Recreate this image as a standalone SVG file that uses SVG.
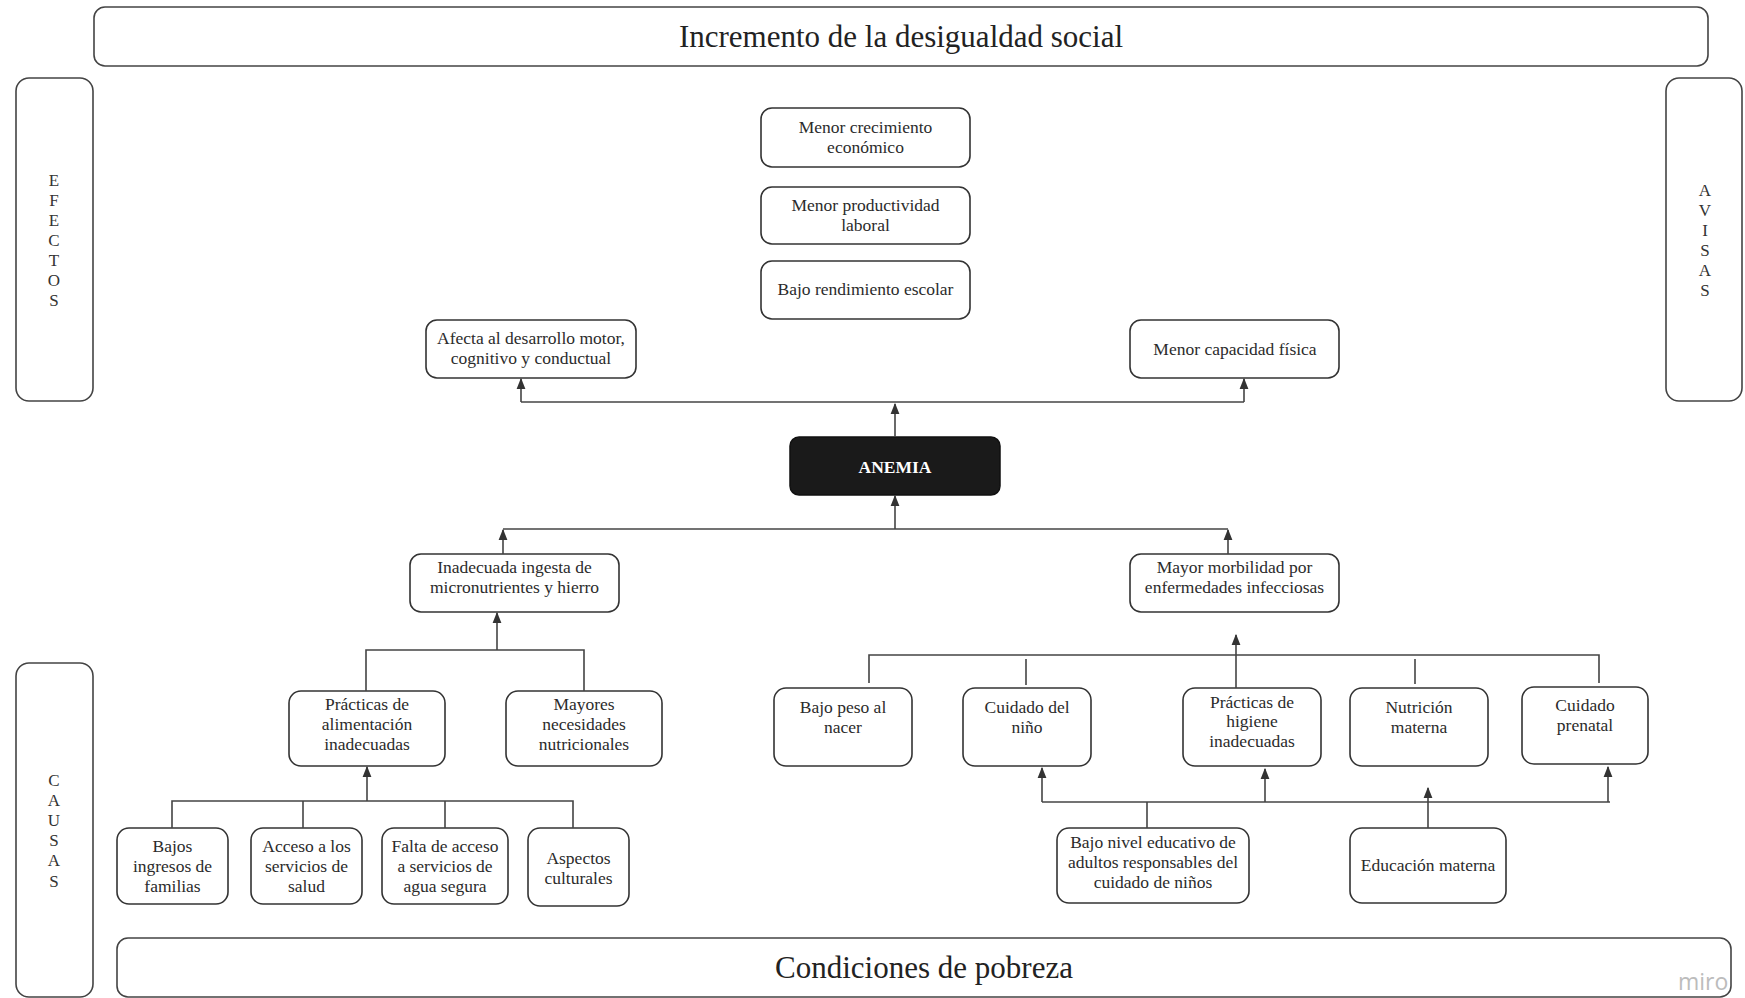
<svg xmlns="http://www.w3.org/2000/svg" width="1745" height="998" viewBox="0 0 1745 998">
<defs>
<style>
.box{fill:#fff;stroke:#333;stroke-width:1.6}
.band{fill:#fff;stroke:#444;stroke-width:1.6}
.t{font-family:"Liberation Serif","Times New Roman",serif;font-size:17.5px;fill:#2b2b2b;text-anchor:middle}
.big{font-family:"Liberation Serif","Times New Roman",serif;font-size:31px;fill:#222;text-anchor:middle}
.side{font-family:"Liberation Serif","Times New Roman",serif;font-size:17px;fill:#333;text-anchor:middle}
.con{fill:none;stroke:#444;stroke-width:1.6}
</style>
<marker id="ah" viewBox="0 0 10 10" refX="9" refY="5" markerWidth="11" markerHeight="11" markerUnits="userSpaceOnUse" orient="auto">
<path d="M0,1 L10,5 L0,9 Z" fill="#333"/>
</marker>
</defs>
<rect width="1745" height="998" fill="#fff"/>

<g id="band-top"><rect class="band" x="94" y="7" width="1614" height="59" rx="11"/><text class="big" x="901" y="47">Incremento de la desigualdad social</text></g>
<g id="band-bottom"><rect class="band" x="117" y="938" width="1614" height="59" rx="11"/><text class="big" x="924" y="978">Condiciones de pobreza</text></g>

<g id="side-efectos"><rect class="band" x="16" y="78" width="77" height="323" rx="13"/>
<text class="side" x="54"><tspan x="54" y="186">E</tspan><tspan x="54" y="206">F</tspan><tspan x="54" y="226">E</tspan><tspan x="54" y="246">C</tspan><tspan x="54" y="266">T</tspan><tspan x="54" y="286">O</tspan><tspan x="54" y="306">S</tspan></text></g>
<g id="side-avisas"><rect class="band" x="1666" y="78" width="76" height="323" rx="13"/>
<text class="side" x="1705"><tspan x="1705" y="196">A</tspan><tspan x="1705" y="216">V</tspan><tspan x="1705" y="236">I</tspan><tspan x="1705" y="256">S</tspan><tspan x="1705" y="276">A</tspan><tspan x="1705" y="296">S</tspan></text></g>
<g id="side-causas"><rect class="band" x="16" y="663" width="77" height="334" rx="13"/>
<text class="side" x="54"><tspan x="54" y="786">C</tspan><tspan x="54" y="806">A</tspan><tspan x="54" y="826">U</tspan><tspan x="54" y="846">S</tspan><tspan x="54" y="866">A</tspan><tspan x="54" y="887">S</tspan></text></g>

<g id="n-crecimiento"><rect class="box" x="761" y="108" width="209" height="59" rx="11"/><text class="t"><tspan x="865.5" y="133">Menor crecimiento</tspan><tspan x="865.5" y="153">económico</tspan></text></g>
<g id="n-productividad"><rect class="box" x="761" y="187" width="209" height="57" rx="11"/><text class="t"><tspan x="865.5" y="211">Menor productividad</tspan><tspan x="865.5" y="231">laboral</tspan></text></g>
<g id="n-rendimiento"><rect class="box" x="761" y="261" width="209" height="58" rx="11"/><text class="t" x="865.5" y="295">Bajo rendimiento escolar</text></g>
<g id="n-afecta"><rect class="box" x="426" y="320" width="210" height="58" rx="11"/><text class="t"><tspan x="531" y="344">Afecta al desarrollo motor,</tspan><tspan x="531" y="364">cognitivo y conductual</tspan></text></g>
<g id="n-capacidad"><rect class="box" x="1130" y="320" width="209" height="58" rx="11"/><text class="t" x="1235" y="355">Menor capacidad física</text></g>

<g id="n-anemia"><rect x="790" y="437" width="210" height="58" rx="9" fill="#1a1a1a" stroke="#111" stroke-width="1.5"/><text class="t" x="895" y="473" style="fill:#fff;font-weight:bold">ANEMIA</text></g>

<g id="n-ingesta"><rect class="box" x="410" y="554" width="209" height="58" rx="11"/><text class="t"><tspan x="514.5" y="573">Inadecuada ingesta de</tspan><tspan x="514.5" y="593">micronutrientes y hierro</tspan></text></g>
<g id="n-morbilidad"><rect class="box" x="1130" y="554" width="209" height="58" rx="11"/><text class="t"><tspan x="1234.5" y="573">Mayor morbilidad por</tspan><tspan x="1234.5" y="593">enfermedades infecciosas</tspan></text></g>

<g id="n-alimentacion"><rect class="box" x="289" y="691" width="156" height="75" rx="12"/><text class="t"><tspan x="367" y="710">Prácticas de</tspan><tspan x="367" y="730">alimentación</tspan><tspan x="367" y="750">inadecuadas</tspan></text></g>
<g id="n-mayores"><rect class="box" x="506" y="691" width="156" height="75" rx="12"/><text class="t"><tspan x="584" y="710">Mayores</tspan><tspan x="584" y="730">necesidades</tspan><tspan x="584" y="750">nutricionales</tspan></text></g>

<g id="n-bajos"><rect class="box" x="117" y="828" width="111" height="76" rx="12"/><text class="t"><tspan x="172.5" y="852">Bajos</tspan><tspan x="172.5" y="872">ingresos de</tspan><tspan x="172.5" y="892">familias</tspan></text></g>
<g id="n-acceso"><rect class="box" x="251" y="828" width="111" height="76" rx="12"/><text class="t"><tspan x="306.5" y="852">Acceso a los</tspan><tspan x="306.5" y="872">servicios de</tspan><tspan x="306.5" y="892">salud</tspan></text></g>
<g id="n-falta"><rect class="box" x="382" y="828" width="126" height="76" rx="12"/><text class="t"><tspan x="445" y="852">Falta de acceso</tspan><tspan x="445" y="872">a servicios de</tspan><tspan x="445" y="892">agua segura</tspan></text></g>
<g id="n-aspectos"><rect class="box" x="528" y="828" width="101" height="78" rx="12"/><text class="t"><tspan x="578.5" y="864">Aspectos</tspan><tspan x="578.5" y="884">culturales</tspan></text></g>

<g id="n-peso"><rect class="box" x="774" y="688" width="138" height="78" rx="12"/><text class="t"><tspan x="843" y="713">Bajo peso al</tspan><tspan x="843" y="733">nacer</tspan></text></g>
<g id="n-cuidado-nino"><rect class="box" x="963" y="688" width="128" height="78" rx="12"/><text class="t"><tspan x="1027" y="713">Cuidado del</tspan><tspan x="1027" y="733">niño</tspan></text></g>
<g id="n-higiene"><rect class="box" x="1183" y="688" width="138" height="78" rx="12"/><text class="t"><tspan x="1252" y="708">Prácticas de</tspan><tspan x="1252" y="727">higiene</tspan><tspan x="1252" y="747">inadecuadas</tspan></text></g>
<g id="n-nutricion"><rect class="box" x="1350" y="688" width="138" height="78" rx="12"/><text class="t"><tspan x="1419" y="713">Nutrición</tspan><tspan x="1419" y="733">materna</tspan></text></g>
<g id="n-prenatal"><rect class="box" x="1522" y="687" width="126" height="77" rx="12"/><text class="t"><tspan x="1585" y="711">Cuidado</tspan><tspan x="1585" y="731">prenatal</tspan></text></g>

<g id="n-nivel"><rect class="box" x="1057" y="828" width="192" height="75" rx="12"/><text class="t"><tspan x="1153" y="848">Bajo nivel educativo de</tspan><tspan x="1153" y="868">adultos responsables del</tspan><tspan x="1153" y="888">cuidado de niños</tspan></text></g>
<g id="n-educacion"><rect class="box" x="1350" y="828" width="156" height="75" rx="12"/><text class="t" x="1428" y="871">Educación materna</text></g>

<g id="connectors">
<path class="con" d="M521 402 H1244"/>
<path class="con" d="M521 402 V379" marker-end="url(#ah)"/>
<path class="con" d="M1244 402 V379" marker-end="url(#ah)"/>
<path class="con" d="M895 437 V404" marker-end="url(#ah)"/>
<path class="con" d="M503 529 H1228"/>
<path class="con" d="M895 529 V496" marker-end="url(#ah)"/>
<path class="con" d="M503 554 V530" marker-end="url(#ah)"/>
<path class="con" d="M1228 554 V530" marker-end="url(#ah)"/>

<path class="con" d="M366 691 V650 H584 V691"/>
<path class="con" d="M497 650 V613" marker-end="url(#ah)"/>
<path class="con" d="M172 828 V801 H573 V828"/>
<path class="con" d="M303 801 V828"/>
<path class="con" d="M445 801 V828"/>
<path class="con" d="M367 801 V767" marker-end="url(#ah)"/>

<path class="con" d="M869 683 V655 H1599 V683"/>
<path class="con" d="M1026 659 V685"/>
<path class="con" d="M1415 659 V684"/>
<path class="con" d="M1236 688 V635" marker-end="url(#ah)"/>
<path class="con" d="M1042 802 H1610"/>
<path class="con" d="M1042 802 V768" marker-end="url(#ah)"/>
<path class="con" d="M1265 802 V769" marker-end="url(#ah)"/>
<path class="con" d="M1608 802 V767" marker-end="url(#ah)"/>
<path class="con" d="M1147 802 V828"/>
<path class="con" d="M1428 828 V788" marker-end="url(#ah)"/>
</g>

<text x="1678" y="990" style="font-family:'Open Sans','Noto Sans',sans-serif;font-size:23px;fill:#bcbcbc">miro</text>
</svg>
